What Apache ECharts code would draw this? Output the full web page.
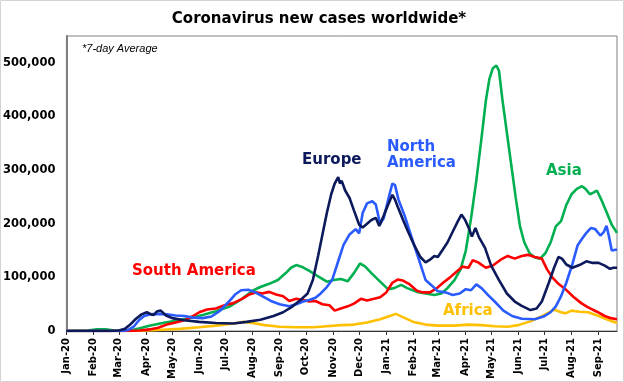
<!DOCTYPE html>
<html>
<head>
<meta charset="utf-8">
<script src="https://cdn.jsdelivr.net/npm/echarts@6/dist/echarts.min.js"></script>
<style>html,body{margin:0;padding:0;background:#fff}#c{width:624px;height:382px}</style>
</head>
<body>
<div id="c"></div>
<script>
const europeDates = ['2020-01-01','2020-02-20','2020-03-01','2020-03-08','2020-03-14','2020-03-20','2020-03-27','2020-04-02','2020-04-07','2020-04-10','2020-04-14','2020-04-18','2020-04-24','2020-05-01','2020-05-15','2020-06-01','2020-06-20','2020-07-10','2020-07-25','2020-08-10','2020-08-25','2020-09-05','2020-09-15','2020-09-25','2020-10-03','2020-10-09','2020-10-15','2020-10-20','2020-10-25','2020-10-30','2020-11-03','2020-11-07','2020-11-09','2020-11-11','2020-11-15','2020-11-20','2020-11-25','2020-12-01','2020-12-05','2020-12-10','2020-12-15','2020-12-20','2020-12-24','2020-12-29','2021-01-03','2021-01-08','2021-01-11','2021-01-14','2021-01-20','2021-01-26','2021-02-02','2021-02-09','2021-02-15','2021-02-20','2021-02-25','2021-03-01','2021-03-06','2021-03-12','2021-03-18','2021-03-24','2021-03-28','2021-04-01','2021-04-06','2021-04-09','2021-04-13','2021-04-17','2021-04-24','2021-05-01','2021-05-10','2021-05-19','2021-05-28','2021-06-05','2021-06-15','2021-06-22','2021-06-28','2021-07-06','2021-07-12','2021-07-17','2021-07-21','2021-07-26','2021-08-02','2021-08-10','2021-08-18','2021-08-25','2021-09-01','2021-09-08','2021-09-14','2021-09-18','2021-09-22'];
const europeValues = [0,0,1000,4000,12000,22000,31000,35000,31000,30000,37000,38000,29000,24000,20000,17000,15000,14000,17000,21000,28000,35000,45000,58000,70000,95000,140000,180000,220000,255000,275000,287000,275000,280000,262000,248000,225000,198000,193000,200000,207000,211000,196000,215000,235000,254000,245000,232000,208000,185000,160000,138000,128000,133000,140000,138000,150000,165000,185000,205000,217000,208000,190000,176000,192000,175000,155000,122000,95000,70000,55000,47000,39000,42000,55000,90000,118000,138000,135000,124000,118000,123000,130000,127000,127000,122000,116000,118000,118000];

const naDates = ['2020-01-01','2020-03-05','2020-03-12','2020-03-18','2020-03-24','2020-03-30','2020-04-05','2020-04-15','2020-04-25','2020-05-05','2020-05-15','2020-05-25','2020-06-05','2020-06-15','2020-06-25','2020-07-05','2020-07-12','2020-07-19','2020-07-27','2020-08-03','2020-08-12','2020-08-22','2020-09-01','2020-09-12','2020-09-20','2020-09-28','2020-10-05','2020-10-12','2020-10-18','2020-10-25','2020-10-31','2020-11-06','2020-11-13','2020-11-20','2020-11-27','2020-12-01','2020-12-05','2020-12-10','2020-12-16','2020-12-20','2020-12-25','2020-12-29','2021-01-04','2021-01-08','2021-01-11','2021-01-15','2021-01-22','2021-01-28','2021-02-04','2021-02-10','2021-02-15','2021-02-22','2021-03-01','2021-03-10','2021-03-18','2021-03-26','2021-04-02','2021-04-08','2021-04-14','2021-04-20','2021-04-27','2021-05-05','2021-05-15','2021-05-25','2021-06-05','2021-06-20','2021-06-30','2021-07-08','2021-07-14','2021-07-20','2021-07-26','2021-08-02','2021-08-08','2021-08-13','2021-08-18','2021-08-23','2021-08-28','2021-09-03','2021-09-07','2021-09-10','2021-09-13','2021-09-16','2021-09-22'];
const naValues = [0,0,2000,8000,20000,28000,31000,32000,31000,29000,28000,25000,24000,27000,38000,55000,68000,76000,77000,73000,65000,56000,50000,46000,50000,55000,58000,62000,70000,82000,95000,125000,160000,180000,190000,182000,220000,238000,242000,236000,200000,210000,250000,275000,272000,245000,215000,185000,150000,120000,95000,85000,74000,72000,67000,70000,78000,76000,87000,80000,68000,55000,38000,28000,23000,22000,27000,35000,46000,65000,90000,125000,160000,172000,183000,192000,190000,178000,185000,196000,175000,150000,152000];

const saDates = ['2020-01-01','2020-03-10','2020-03-25','2020-04-05','2020-04-15','2020-04-25','2020-05-05','2020-05-15','2020-05-25','2020-06-01','2020-06-10','2020-06-20','2020-06-30','2020-07-10','2020-07-20','2020-07-28','2020-08-05','2020-08-12','2020-08-20','2020-08-28','2020-09-05','2020-09-12','2020-09-20','2020-09-28','2020-10-05','2020-10-12','2020-10-20','2020-10-28','2020-11-03','2020-11-10','2020-11-18','2020-11-25','2020-12-03','2020-12-10','2020-12-18','2020-12-25','2021-01-01','2021-01-08','2021-01-14','2021-01-20','2021-01-27','2021-02-05','2021-02-12','2021-02-20','2021-02-28','2021-03-07','2021-03-15','2021-03-22','2021-03-29','2021-04-05','2021-04-10','2021-04-16','2021-04-25','2021-05-03','2021-05-12','2021-05-20','2021-05-28','2021-06-05','2021-06-12','2021-06-20','2021-06-28','2021-07-04','2021-07-10','2021-07-17','2021-07-25','2021-08-03','2021-08-12','2021-08-20','2021-08-30','2021-09-08','2021-09-15','2021-09-22'];
const saValues = [0,0,1000,3000,6000,12000,16000,20000,28000,35000,40000,42000,48000,52000,60000,68000,72000,70000,73000,68000,65000,56000,60000,58000,55000,56000,50000,48000,38000,42000,46000,51000,60000,57000,60000,63000,72000,90000,96000,94000,88000,75000,72000,72000,80000,90000,100000,110000,120000,118000,132000,128000,118000,122000,133000,140000,135000,140000,142000,138000,135000,115000,100000,88000,78000,64000,52000,44000,36000,28000,24000,22000];

const asiaDates = ['2020-01-01','2020-01-25','2020-02-05','2020-02-15','2020-02-25','2020-03-05','2020-03-15','2020-03-25','2020-04-05','2020-04-20','2020-05-05','2020-05-20','2020-06-05','2020-06-20','2020-07-05','2020-07-20','2020-08-01','2020-08-10','2020-08-20','2020-08-30','2020-09-08','2020-09-14','2020-09-20','2020-09-26','2020-10-05','2020-10-15','2020-10-25','2020-11-02','2020-11-10','2020-11-18','2020-11-25','2020-12-02','2020-12-08','2020-12-15','2020-12-25','2021-01-03','2021-01-10','2021-01-18','2021-01-25','2021-02-05','2021-02-15','2021-02-25','2021-03-05','2021-03-12','2021-03-20','2021-03-27','2021-04-02','2021-04-08','2021-04-14','2021-04-20','2021-04-25','2021-04-29','2021-05-03','2021-05-07','2021-05-10','2021-05-14','2021-05-19','2021-05-24','2021-05-29','2021-06-03','2021-06-08','2021-06-14','2021-06-20','2021-06-26','2021-07-02','2021-07-08','2021-07-14','2021-07-20','2021-07-26','2021-08-01','2021-08-07','2021-08-13','2021-08-17','2021-08-22','2021-08-26','2021-08-30','2021-09-04','2021-09-10','2021-09-16','2021-09-22'];
const asiaValues = [0,1000,3000,3000,1000,500,1500,5000,10000,15000,19000,24000,30000,37000,45000,60000,75000,82000,88000,95000,108000,118000,123000,120000,112000,102000,92000,95000,97000,93000,108000,126000,120000,108000,92000,78000,80000,86000,80000,73000,70000,67000,70000,80000,95000,115000,150000,210000,280000,360000,430000,470000,490000,495000,485000,430000,370000,310000,250000,195000,165000,145000,137000,135000,145000,165000,195000,205000,235000,255000,265000,270000,265000,255000,258000,262000,245000,222000,198000,183000];

const africaDates = ['2020-01-01','2020-03-15','2020-04-01','2020-04-20','2020-05-10','2020-06-01','2020-06-20','2020-07-10','2020-07-22','2020-08-01','2020-08-15','2020-09-01','2020-09-20','2020-10-10','2020-10-25','2020-11-10','2020-11-25','2020-12-10','2020-12-25','2021-01-05','2021-01-12','2021-01-20','2021-02-01','2021-02-15','2021-03-01','2021-03-20','2021-04-05','2021-04-20','2021-05-05','2021-05-20','2021-06-01','2021-06-15','2021-07-01','2021-07-12','2021-07-20','2021-07-25','2021-08-01','2021-08-10','2021-08-20','2021-09-01','2021-09-10','2021-09-22'];
const africaValues = [0,0,1000,2500,4000,7000,10000,14000,17000,15000,11000,8000,7000,7000,9000,11000,12000,16000,22000,28000,32000,26000,17000,12000,10000,10000,12000,11000,9000,8000,11000,18000,30000,40000,35000,33000,38000,36000,35000,28000,22000,15000];

const monthNames = ['Jan','Feb','Mar','Apr','May','Jun','Jul','Aug','Sep','Oct','Nov','Dec'];
const yTicks = [0,100000,200000,300000,400000,500000];

const FONT = 'DejaVu Sans';
function pairs(d, v) { return d.map((x, i) => [x, v[i]]); }
function line(name, color, d, v) {
  return { name, type: 'line', data: pairs(d, v), showSymbol: false, symbol: 'none',
    lineStyle: { color, width: 2.6 }, itemStyle: { color }, animation: false };
}
function label(text, x, y, color, size) {
  return { type: 'text', x, y, style: { text, fill: color, font: 'bold ' + size + 'px "' + FONT + '"', textAlign: 'left', textVerticalAlign: 'middle' } };
}

const chart = echarts.init(document.getElementById('c'));
chart.setOption({
  useUTC: true,
  animation: false,
  backgroundColor: '#fff',
  grid: { left: 66, right: 7, top: 36, bottom: 48, show: true, borderColor: '#808080', borderWidth: 1 },
  xAxis: {
    type: 'time',
    min: '2020-01-01', max: '2021-09-22',
    minInterval: 28 * 86400000, maxInterval: 31 * 86400000,
    splitLine: { show: false },
    axisLine: { lineStyle: { color: '#333', width: 1 } },
    axisTick: { show: true, length: 4, lineStyle: { color: '#333' } },
    axisLabel: {
      rotate: 90, margin: 7, color: '#000', fontFamily: FONT, fontWeight: 'bold', fontSize: 10,
      showMaxLabel: false, hideOverlap: false,
      formatter: function (val) {
        const d = new Date(val);
        return monthNames[d.getUTCMonth()] + '-' + String(d.getUTCFullYear()).slice(2);
      }
    }
  },
  yAxis: {
    type: 'value', min: 0, max: 550000, interval: 100000,
    splitLine: { show: false },
    axisLine: { show: true, lineStyle: { color: '#808080', width: 2 } },
    axisTick: { show: false },
    axisLabel: {
      margin: 11, color: '#000', fontFamily: FONT, fontWeight: 'bold', fontSize: 11.5, showMaxLabel: false,
      formatter: function (v) { return yTicks.indexOf(v) >= 0 ? v.toLocaleString('en-US') : ''; }
    }
  },
  series: [
    line('Africa', '#ffc000', africaDates, africaValues),
    line('Asia', '#00b050', asiaDates, asiaValues),
    line('South America', '#ff0000', saDates, saValues),
    line('North America', '#2a5bff', naDates, naValues),
    line('Europe', '#0c1a5c', europeDates, europeValues)
  ],
  graphic: [
    { type: 'rect', shape: { x: 0.5, y: 0.5, width: 623, height: 381 }, style: { fill: null, stroke: '#d4d4d4', lineWidth: 1 }, silent: true },
    { type: 'text', x: 319, y: 19, style: { text: 'Coronavirus new cases worldwide*', fill: '#000', font: 'bold 15px "' + FONT + '"', textAlign: 'center', textVerticalAlign: 'middle' } },
    { type: 'text', x: 82, y: 49, style: { text: '*7-day Average', fill: '#000', font: 'italic 11px "Liberation Sans"', textAlign: 'left', textVerticalAlign: 'middle' } },
    label('South America', 132, 271, '#ff0000', 15),
    label('Europe', 302, 160, '#0c1a5c', 15),
    label('North', 387, 147, '#2a5bff', 15),
    label('America', 387, 163, '#2a5bff', 15),
    label('Asia', 546, 171, '#00b050', 15),
    label('Africa', 443, 311, '#ffc000', 15)
  ]
});
</script>
</body>
</html>
